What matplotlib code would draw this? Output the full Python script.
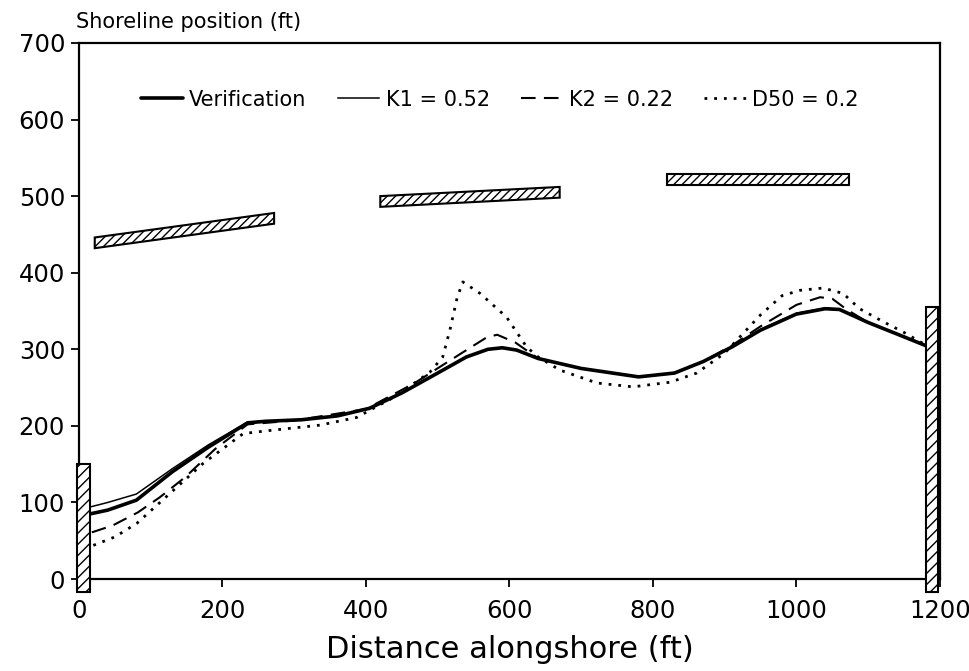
import matplotlib.pyplot as plt
from matplotlib.patches import Polygon, Rectangle

# ─── DONNÉES ──────────────────────────────────────────────────────────────────
verif_x = [10, 40, 80, 130, 180, 235, 260, 310, 360, 405, 450, 500, 540, 570, 590,
           610, 640, 700, 780, 830, 870, 910, 950, 1000, 1040, 1060, 1100, 1140, 1185]
verif_y = [84, 90, 103, 140, 172, 204, 206, 208, 213, 223, 243, 269, 290, 300, 302,
           299, 288, 275, 264, 269, 284, 303, 325, 346, 353, 352, 335, 320, 303]

k1_x = [15, 40, 80, 130, 180, 235, 260, 310, 360, 405, 450, 500, 540, 570, 590,
        610, 640, 700, 780, 830, 870, 910, 950, 1000, 1040, 1060, 1100, 1140, 1185]
k1_y = [94, 100, 111, 144, 175, 205, 206, 208, 213, 223, 243, 269, 290, 300, 302,
        299, 288, 275, 264, 269, 284, 303, 326, 347, 354, 352, 335, 320, 303]

k2_x = [18, 47, 82, 113, 148, 190, 235, 300, 400, 436, 468, 503, 535, 569, 583,
        608, 640, 700, 780, 830, 870, 910, 950, 1000, 1033, 1050, 1070, 1100, 1140, 1185]
k2_y = [61, 70, 87, 107, 133, 170, 202, 207, 222, 240, 256, 277, 296, 316, 319,
        309, 288, 275, 264, 269, 284, 305, 330, 358, 368, 366, 352, 335, 320, 303]

d50_x = [20, 50, 81, 127, 173, 229, 266, 336, 387, 440, 489, 507, 517, 527, 535,
         559, 596, 624, 640, 670, 722, 772, 824, 861, 900, 950, 980, 1005, 1037,
         1065, 1088, 1121, 1150, 1185]
d50_y = [44, 55, 73, 112, 151, 190, 194, 201, 211, 238, 270, 290, 325, 367, 388,
         373, 342, 303, 290, 273, 256, 251, 257, 269, 295, 345, 370, 377, 380,
         373, 353, 336, 322, 303]

# brise-lames : (x début, x fin, y début, y fin)
brise_lames = [(22, 272, 439, 471),
               (420, 670, 493, 505),
               (820, 1073, 522, 522)]
epaisseur_bl = 14

# murs : (x, largeur, y bas, y haut)
murs = [(-3, 18, -17, 150),
        (1180, 18, -17, 355)]

# ─── FIGURE ───────────────────────────────────────────────────────────────────
plt.rcParams['font.family'] = ['DejaVu Sans']
fig = plt.figure(figsize=(9.7, 6.71), dpi=100)
ax = fig.add_axes([0.0814, 0.137, 0.8876, 0.799])

ax.plot(verif_x, verif_y, color='black', lw=2.6, label='Verification',
        solid_capstyle='round')
ax.plot(k1_x, k1_y, color='black', lw=1.1, label='K1 = 0.52')
ax.plot(k2_x, k2_y, color='black', lw=1.5, linestyle=(0, (7, 4)), label='K2 = 0.22')
ax.plot(d50_x, d50_y, color='black', lw=2.0, linestyle=(0, (1, 2.5)), label='D50 = 0.2')

for x0, x1, y0, y1 in brise_lames:
    h = epaisseur_bl / 2
    pts = [(x0, y0 - h), (x1, y1 - h), (x1, y1 + h), (x0, y0 + h)]
    ax.add_patch(Polygon(pts, closed=True, facecolor='white', edgecolor='black',
                         lw=1.5, hatch='////', zorder=3))

for x, w, yb, yh in murs:
    ax.add_patch(Rectangle((x, yb), w, yh - yb, facecolor='white', edgecolor='black',
                           lw=1.5, hatch='///', zorder=3, clip_on=False))

ax.set_xlim(0, 1200)
ax.set_ylim(0, 700)
ax.set_xticks(range(0, 1201, 200))
ax.set_yticks(range(0, 701, 100))
ax.tick_params(axis='both', direction='out', length=6, width=1.3, labelsize=17.5)
ax.tick_params(axis='x', pad=8)
ax.tick_params(axis='y', pad=4)
for s in ax.spines.values():
    s.set_linewidth(1.6)

ax.set_xlabel("Distance alongshore (ft)", fontsize=22, labelpad=9)
fig.text(0.078, 0.952, "Shoreline position (ft)", fontsize=15, ha='left', va='bottom')

ax.legend(loc='center', bbox_to_anchor=(0.489, 0.894), ncol=4, frameon=False,
          fontsize=15, handlelength=2.0, handletextpad=0.3, columnspacing=1.5)

plt.savefig("out.png", dpi=100)
